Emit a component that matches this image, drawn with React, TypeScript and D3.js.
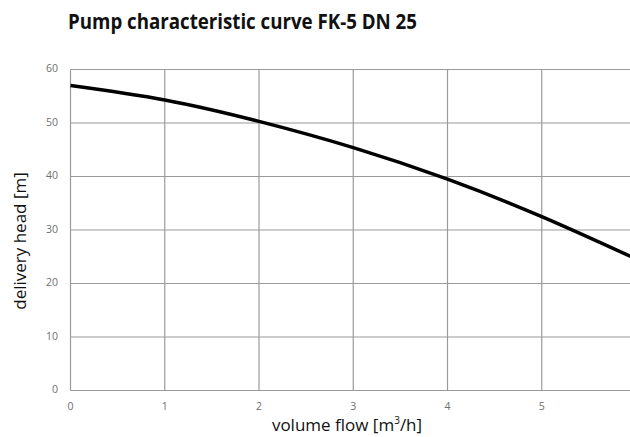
import * as d3 from 'd3'

const flow = [0, 1, 2, 3, 4, 5, 6]
const head = [57, 54.3, 50.3, 45.4, 39.5, 32.5, 24.6]
const xTicks = [0, 1, 2, 3, 4, 5, 6]
const xLabels = [0, 1, 2, 3, 4, 5]
const yTicks = [0, 10, 20, 30, 40, 50, 60]

const W = 630
const H = 437
const M = { left: 70.5, top: 69.5, right: 636, bottom: 390.5 }

export default function App() {
  const x = d3.scaleLinear().domain([0, 6]).range([M.left, M.right])
  const y = d3.scaleLinear().domain([0, 60]).range([M.bottom, M.top])
  const pts = flow.map((f, i) => [f, head[i]] as [number, number])
  const line = d3
    .line<[number, number]>()
    .x((d) => x(d[0]))
    .y((d) => y(d[1]))
    .curve(d3.curveNatural)

  return (
    <svg
      width={W}
      height={H}
      style={{ position: 'absolute', left: 0, top: 0, background: '#fff' }}
      fontFamily="'Open Sans', sans-serif"
    >
      <text
        x={68}
        y={29}
        fontSize={20.5}
        fontWeight={700}
        fill="#111"
        textLength={349}
        lengthAdjust="spacingAndGlyphs"
      >
        Pump characteristic curve FK-5 DN 25
      </text>

      {yTicks.map((t) => (
        <g key={'y' + t}>
          <line x1={M.left} x2={M.right} y1={y(t)} y2={y(t)} stroke="#9a9a9a" strokeWidth={1.2} />
          <text x={58} y={y(t) - 1} dy="0.35em" textAnchor="end" fontSize={10.5} fill="#6f6f6f">
            {t}
          </text>
        </g>
      ))}
      {xTicks.map((t) => (
        <line key={'x' + t} x1={x(t)} x2={x(t)} y1={M.top} y2={M.bottom} stroke="#9a9a9a" strokeWidth={1.2} />
      ))}
      {xLabels.map((t) => (
        <text key={'xl' + t} x={x(t)} y={410} textAnchor="middle" fontSize={10.5} fill="#6f6f6f">
          {t}
        </text>
      ))}

      <path d={line(pts) || ''} fill="none" stroke="#000" strokeWidth={3.5} />

      <text
        transform="translate(26 241) rotate(-90)"
        textAnchor="middle"
        fontSize={17}
        fill="#111"
      >
        delivery head [m]
      </text>
      <text x={347} y={431} textAnchor="middle" fontSize={17} fill="#111">
        volume flow [m<tspan fontSize={10} dy={-7}>3</tspan>
        <tspan dy={7}>/h]</tspan>
      </text>
    </svg>
  )
}
